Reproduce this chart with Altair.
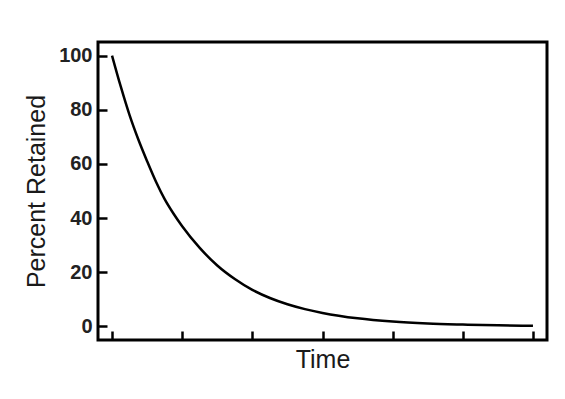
import altair as alt
import pandas as pd

time_vals = [0, 0.125, 0.25, 0.375, 0.5, 0.625, 0.75, 0.875, 1, 1.25, 1.5, 1.75, 2, 2.25, 2.5, 2.75, 3, 3.5, 4, 4.5, 5, 5.5, 6]
retained = [100, 88.5, 78, 69, 61, 53.5, 47, 41.7, 37, 29, 22.5, 17.5, 13.5, 10.5, 8.2, 6.4, 5, 3, 1.8, 1.1, 0.7, 0.4, 0.25]
x_ticks = [0, 1, 2, 3, 4, 5, 6]
y_ticks = [0, 20, 40, 60, 80, 100]

df = pd.DataFrame({"Time": time_vals, "Retained": retained})

chart = alt.Chart(df).mark_line(color="black", strokeWidth=2.5, interpolate="monotone").encode(
    x=alt.X("Time:Q",
            scale=alt.Scale(domain=[-0.2, 6.2], nice=False, zero=False),
            axis=alt.Axis(title="Time", values=x_ticks, labels=False, grid=False, domain=False,
                          tickSize=9, offset=-9, tickWidth=2.5, tickColor="black",
                          titleFont="Liberation Sans", titleFontSize=25, titleFontWeight="normal",
                          titleColor="#1a1a1a", titlePadding=6)),
    y=alt.Y("Retained:Q",
            scale=alt.Scale(domain=[-5, 105], nice=False, zero=False),
            axis=alt.Axis(title="Percent Retained", values=y_ticks, grid=False, domain=False,
                          tickSize=9, offset=-9, tickWidth=2.5, tickColor="black",
                          labelFont="Liberation Sans", labelFontSize=20, labelFontWeight="bold",
                          labelColor="#222", labelPadding=6,
                          titleFont="Liberation Sans", titleFontSize=25, titleFontWeight="normal",
                          titleColor="#1a1a1a", titlePadding=9)),
).properties(
    width=449, height=298,
    autosize="none",
    padding={"left": 90, "top": 34, "right": 10, "bottom": 50},
).configure_view(stroke="black", strokeWidth=3)

chart.save("out.html", embed_options={"renderer": "svg", "actions": False})
